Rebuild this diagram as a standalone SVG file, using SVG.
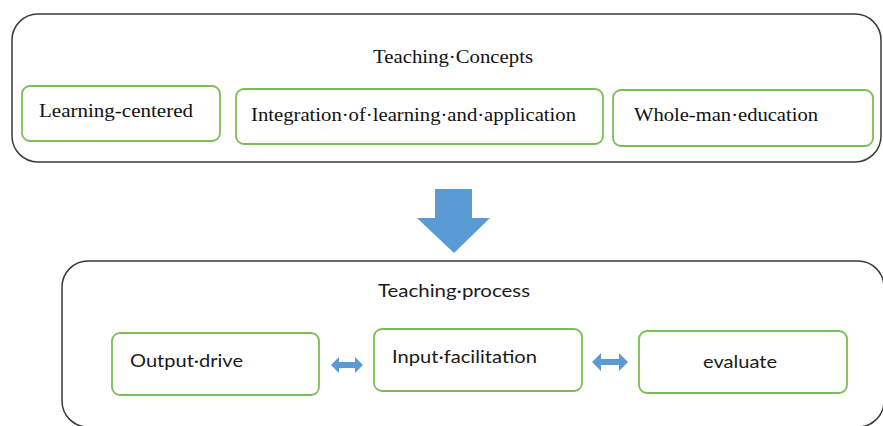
<svg xmlns="http://www.w3.org/2000/svg" width="883" height="426" viewBox="0 0 883 426">
<style>
.outer{fill:#fff;stroke:#3a3a3a;stroke-width:1.5}
.box{fill:#fff;stroke:#7cbd58;stroke-width:1.8}
.serif{font-family:"Liberation Serif","Times New Roman",serif;font-size:19px;fill:#111}
.sans{font-family:Lato,"Open Sans","Liberation Sans",sans-serif;font-size:18px;fill:#1a1a1a}
.blue{fill:#5b9bd5}
</style>
<rect width="883" height="426" fill="#fff"/>
<g id="concepts">
<rect class="outer" x="12" y="14" width="869" height="148" rx="26"/>
<text class="serif" x="373" y="63" textLength="160" lengthAdjust="spacingAndGlyphs">Teaching·Concepts</text>
</g>
<g id="learning-centered">
<rect class="box" x="22" y="86" width="198" height="55" rx="8"/>
<text class="serif" x="39" y="117" textLength="154" lengthAdjust="spacingAndGlyphs">Learning-centered</text>
</g>
<g id="integration">
<rect class="box" x="236" y="89" width="367" height="55" rx="8"/>
<text class="serif" x="251" y="121" textLength="325" lengthAdjust="spacingAndGlyphs">Integration·of·learning·and·application</text>
</g>
<g id="whole-man">
<rect class="box" x="613" y="90" width="260" height="56" rx="8"/>
<text class="serif" x="634" y="121" textLength="184" lengthAdjust="spacingAndGlyphs">Whole-man·education</text>
</g>
<g id="process">
<rect class="outer" x="62" y="261" width="822" height="166" rx="26"/>
<text class="sans" x="378" y="297" textLength="152" lengthAdjust="spacingAndGlyphs">Teaching·process</text>
</g>
<g id="output-drive">
<rect class="box" x="112" y="333" width="207" height="62" rx="8"/>
<text class="sans" x="130" y="367" textLength="113" lengthAdjust="spacingAndGlyphs">Output·drive</text>
</g>
<g id="input-facilitation">
<rect class="box" x="374" y="329" width="208" height="62" rx="8"/>
<text class="sans" x="392" y="363" textLength="145" lengthAdjust="spacingAndGlyphs">Input·facilitation</text>
</g>
<g id="evaluate">
<rect class="box" x="639" y="331" width="208" height="62" rx="8"/>
<text class="sans" x="703" y="368" textLength="74" lengthAdjust="spacingAndGlyphs">evaluate</text>
</g>
<g id="connectors">
<polygon class="blue" points="435,189 472,189 472,218 490,218 454,253 417,218 435,218"/>
<polygon class="blue" points="331,365 339,357 339,362 355,362 355,357 363,365 355,373 355,368 339,368 339,373"/>
<polygon class="blue" points="592,362 601,353 601,359 619,359 619,353 628,362 619,371 619,365 601,365 601,371"/>
</g>
</svg>
